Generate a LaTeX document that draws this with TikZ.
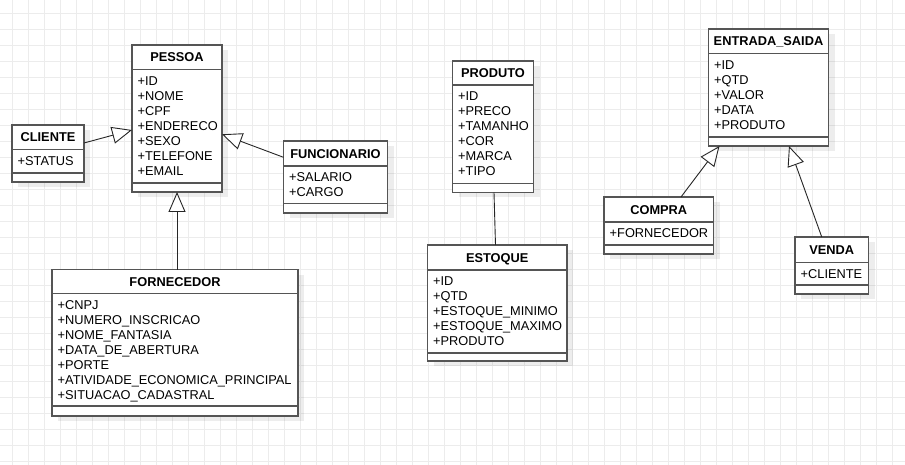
\documentclass[tikz,border=0pt]{standalone}
\usepackage{fontspec}
\setmainfont{Liberation Sans}
\usetikzlibrary{arrows.meta}
\definecolor{gridc}{RGB}{236,236,236}
\definecolor{boxc}{RGB}{85,85,85}
\tikzset{
  classbox/.style={draw=boxc, line width=1.3pt, fill=white, anchor=north west, inner sep=0pt, outer sep=0pt},
  sepline/.style={draw=boxc, line width=1.3pt},
  shadowbox/.style={fill=black, opacity=0.07},
  titletext/.style={anchor=base, inner sep=0pt, font=\bfseries\fontsize{12.8}{15}\selectfont},
  attrtext/.style={anchor=base west, inner sep=0pt, font=\fontsize{12.8}{15}\selectfont},
  inherit/.style={draw=black!85, line width=0.9pt, -{Triangle[fill=white, length=20pt, width=17pt]}},
  assoc/.style={draw=black!85, line width=0.9pt},
  gridline/.style={draw=gridc, line width=0.8pt}
}
% #1 name, #2 left, #3 top, #4 right, #5 bottom, #6 header separator, #7 bottom separator, #8 title, #9 attributes
\newcommand\umlclass[9]{%
  \fill[shadowbox] ({#2+6},{#3+5}) rectangle ({#4+6},{#5+5});
  \node[classbox, minimum width={(#4-#2)*1pt}, minimum height={(#5-#3)*1pt}] (#1) at (#2,#3) {};
  \draw[sepline] (#2,#6) -- (#4,#6);
  \draw[sepline] (#2,#7) -- (#4,#7);
  \node[titletext] (#1-title) at ({(#2+#4)/2},{(#3+#6)/2+4.6}) {#8};
  \foreach \a [count=\i] in {#9} {
    \node[attrtext] (#1-a\i) at ({#2+5.5},{#6+15.6+15*(\i-1)}) {\a};
  }
}
\begin{document}
\begin{tikzpicture}[x=1pt, y=-1pt]
  \fill[white] (0,0) rectangle (905,465);
  \useasboundingbox (0,0) rectangle (905,465);
  % grid
  \foreach \k in {0,...,55} { \draw[gridline] ({12.3+16*\k},0) -- ({12.3+16*\k},465); }
  \foreach \k in {0,...,28} { \draw[gridline] (0,{13.3+16*\k}) -- (905,{13.3+16*\k}); }

  % classes
  \umlclass{pessoa}{132}{45}{222}{192}{69.5}{183}{PESSOA}%
    {+ID,+NOME,+CPF,+ENDERECO,+SEXO,+TELEFONE,+EMAIL}
  \umlclass{cliente}{12}{125}{84}{182}{149.5}{173}{CLIENTE}{+STATUS}
  \umlclass{funcionario}{283.5}{141}{387.5}{213}{166}{203.5}{FUNCIONARIO}{+SALARIO,+CARGO}
  \umlclass{fornecedor}{52}{269.5}{298}{416}{293.5}{406}{FORNECEDOR}%
    {+CNPJ,+NUMERO\_INSCRICAO,+NOME\_FANTASIA,+DATA\_DE\_ABERTURA,+PORTE,+ATIVIDADE\_ECONOMICA\_PRINCIPAL,+SITUACAO\_CADASTRAL}
  \umlclass{produto}{452.5}{61}{533.5}{192.5}{85}{183.5}{PRODUTO}%
    {+ID,+PRECO,+TAMANHO,+COR,+MARCA,+TIPO}
  \umlclass{estoque}{427.5}{245}{567}{361}{270}{353}{ESTOQUE}%
    {+ID,+QTD,+ESTOQUE\_MINIMO,+ESTOQUE\_MAXIMO,+PRODUTO}
  \umlclass{entrada}{708.5}{29}{828.5}{146}{53.5}{137}{ENTRADA\_SAIDA}%
    {+ID,+QTD,+VALOR,+DATA,+PRODUTO}
  \umlclass{compra}{604}{197}{713.5}{254}{222}{245}{COMPRA}{+FORNECEDOR}
  \umlclass{venda}{795}{237}{868.5}{294}{262.5}{285}{VENDA}{+CLIENTE}

  % connectors
  \draw[inherit] ([yshift=10.5pt]cliente.east) -- ([yshift=-11.5pt]pessoa.west);
  \draw[inherit] ([yshift=19.7pt]funcionario.west) -- ([yshift=-15.8pt]pessoa.east);
  \draw[inherit] ([xshift=2pt]fornecedor.north) -- (pessoa.south);
  \draw[assoc] ([xshift=1pt]produto.south) -- ([xshift=-1.75pt]estoque.north);
  \draw[inherit] ([xshift=22.25pt]compra.north) -- ([xshift=-49pt]entrada.south);
  \draw[inherit] ([xshift=-10pt]venda.north) -- ([xshift=20.5pt]entrada.south);
\end{tikzpicture}
\end{document}
